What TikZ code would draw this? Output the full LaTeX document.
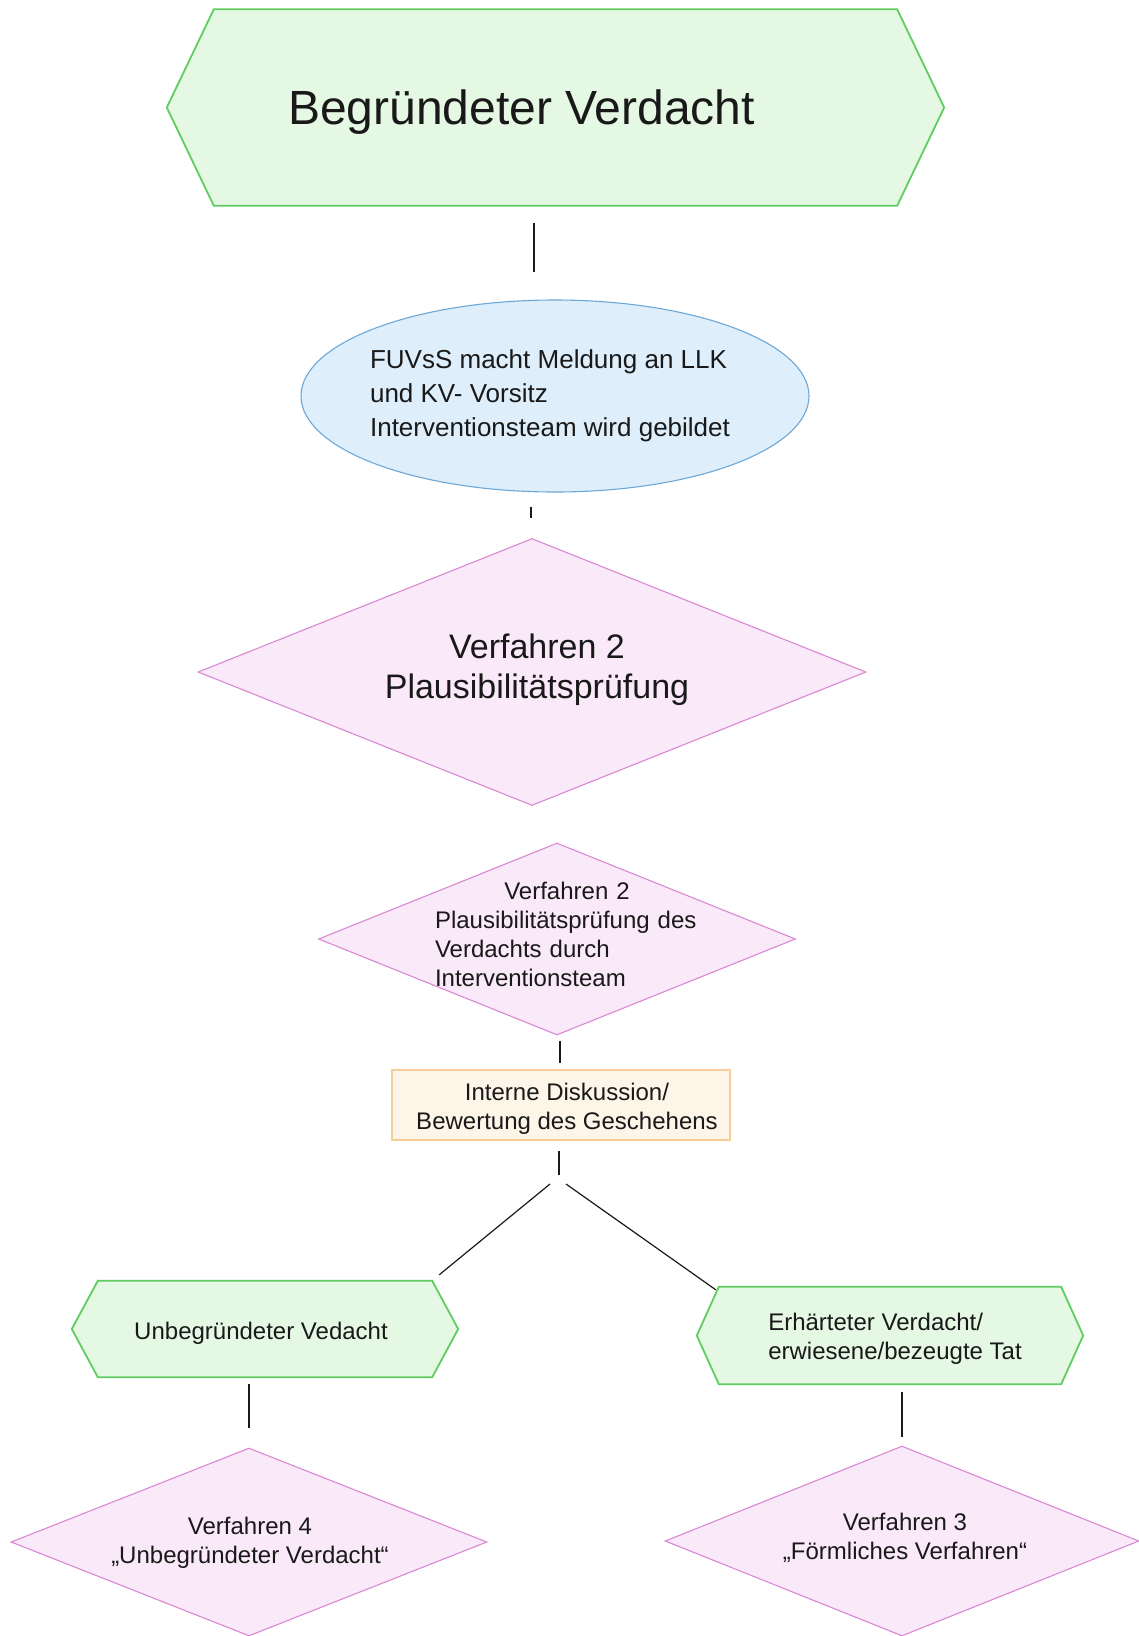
\documentclass[tikz,border=0pt]{standalone}
\usepackage{fontspec}
\setmainfont{Liberation Sans}
\usetikzlibrary{shapes.geometric}
\definecolor{hexfill}{RGB}{228,248,228}
\definecolor{hexline}{RGB}{95,205,95}
\definecolor{pinkfill}{RGB}{250,233,248}
\definecolor{pinkline}{RGB}{218,135,212}
\definecolor{bluefill}{RGB}{222,238,250}
\definecolor{blueline}{RGB}{110,168,215}
\definecolor{boxfill}{RGB}{253,245,232}
\definecolor{boxline}{RGB}{245,205,150}
\definecolor{ink}{RGB}{25,25,25}
\tikzset{
  hexframe/.style 2 args={rectangle, inner sep=0pt, minimum width=#1, minimum height=#2},
  hexshape/.style={draw=hexline, fill=hexfill, line width=1.8pt, line join=miter},
  pinkdia/.style 2 args={diamond, draw=pinkline, fill=pinkfill, line width=1.1pt, inner sep=0pt, minimum width=#1, minimum height=#2},
  txt/.style={text=ink, inner sep=0pt, font=\fontsize{24}{29}\selectfont},
  conn/.style={draw=ink, line width=1.2pt},
}
\newcommand\drawhexagon[2]{%
  \draw[hexshape] (#1.west) -- ([xshift=#2]#1.north west) -- ([xshift=-#2]#1.north east)
    -- (#1.east) -- ([xshift=-#2]#1.south east) -- ([xshift=#2]#1.south west) -- cycle;}
\begin{document}
\begin{tikzpicture}[x=1pt,y=-1pt]
\useasboundingbox[fill=white] (0,0) rectangle (1139,1636);

% title hexagon
\node[hexframe={777pt}{196pt}] (title) at (555.5,107.5) {};
\drawhexagon{title}{47pt}
\node[txt, font=\fontsize{48}{56}\selectfont] (titletxt) at (521.5,112) {Begründeter Verdacht};

% ellipse
\node[ellipse, draw=blueline, fill=bluefill, line width=1.1pt, inner sep=0pt,
      minimum width=508pt, minimum height=192pt] (ell) at (555,396) {};
\node[txt, font=\fontsize{26}{34}\selectfont, align=left] (elltxt) at (550,396)
  {FUVsS macht Meldung an LLK\\und KV- Vorsitz\\Interventionsteam wird gebildet};

% diamond 1
\node[pinkdia={668pt}{267pt}] (dia1) at (532,672) {};
\node[txt, font=\fontsize{34}{40}\selectfont, align=center] (dia1txt) at (537,670)
  {Verfahren 2\\Plausibilitätsprüfung};

% diamond 2
\node[pinkdia={477pt}{192pt}] (dia2) at (557,939) {};
\node[txt, text width=264pt, align=left] (dia2txt) at (567,934)
  {\makebox[\linewidth][c]{Verfahren 2}\\Plausibilitätsprüfung des\\Verdachts durch\\Interventionsteam};

% box
\node[rectangle, draw=boxline, fill=boxfill, line width=1.3pt, inner sep=0pt,
      minimum width=338pt, minimum height=70pt] (box) at (561,1105) {};
\node[txt, align=center] (boxtxt) at (567,1109) {Interne Diskussion/\\Bewertung des Geschehens};

% fork
\coordinate (fork) at (559,1175);
\coordinate (forkL) at (550,1184);
\coordinate (forkR) at (566,1184);

% left hexagon
\node[hexframe={386pt}{96pt}] (lhex) at (265,1329) {};
\drawhexagon{lhex}{26pt}
\node[txt] (lhextxt) at (261,1333) {Unbegründeter Vedacht};

% right hexagon
\node[hexframe={386pt}{97pt}] (rhex) at (890,1335.5) {};
\drawhexagon{rhex}{22pt}
\node[txt, align=left] (rhextxt) at (895,1339) {Erhärteter Verdacht/\\erwiesene/bezeugte Tat};

% bottom diamonds
\node[pinkdia={476pt}{188pt}] (ldia) at (249,1542) {};
\node[txt, align=center] (ldiatxt) at (250,1543) {Verfahren 4\\„Unbegründeter Verdacht“};
\node[pinkdia={474pt}{190pt}] (rdia) at (902,1541) {};
\node[txt, align=center] (rdiatxt) at (905,1538) {Verfahren 3\\„Förmliches Verfahren“};

% connectors
\draw[conn] ([xshift=-21.5pt,yshift=-17pt]title.south) -- ([xshift=-21pt,yshift=27pt]ell.north);
\draw[conn] ([xshift=-24pt,yshift=-14pt]ell.south) -- ([xshift=-1pt,yshift=20pt]dia1.north);
\draw[conn] ([xshift=3pt,yshift=-5pt]dia2.south) -- ([xshift=-1pt,yshift=6pt]box.north);
\draw[conn] ([xshift=-2pt,yshift=-10pt]box.south) -- (fork);
\draw[conn] (forkL) -- ([xshift=-19pt,yshift=6pt]lhex.north east);
\draw[conn] (forkR) -- ([xshift=19pt,yshift=-3pt]rhex.north west);
\draw[conn] ([yshift=-7pt]lhex.south -| ldia.north) -- ([yshift=19pt]ldia.north);
\draw[conn] ([yshift=-8pt]rhex.south -| rdia.north) -- ([yshift=8pt]rdia.north);
\end{tikzpicture}
\end{document}
